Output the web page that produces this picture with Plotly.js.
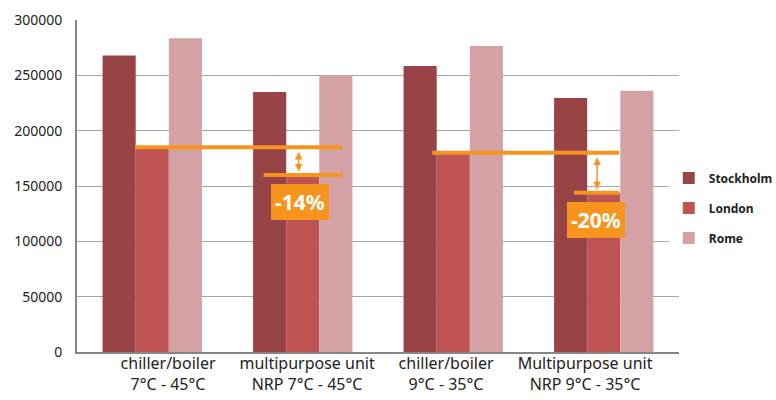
<!DOCTYPE html>
<html><head><meta charset="utf-8">
<script src="https://cdn.plot.ly/plotly-3.0.1.min.js"></script>
<style>html,body{margin:0;padding:0;background:#fff}#chart{width:776px;height:400px}</style>
</head><body><div id="chart"></div>
<script>
const categories = ["chiller/boiler<br>7°C - 45°C", "multipurpose unit<br>NRP 7°C - 45°C", "chiller/boiler<br>9°C - 35°C", "Multipurpose unit<br>NRP 9°C - 35°C"];
const seriesNames = ["Stockholm", "London", "Rome"];
const stockholm = [268000, 235000, 258500, 229500];
const london = [185000, 160000, 180000, 144000];
const rome = [283500, 250000, 276500, 236000];
const savingLabels = ["-14%", "-20%"];
const colors = ["#984447", "#BE5354", "#D4A2A5"];
const orange = "#F7941E";
const font = "Noto Sans, Open Sans, sans-serif";

const vals = [stockholm, london, rome];
const traces = seriesNames.map((n, i) => ({
  type: "bar", name: n, x: [0,1,2,3], y: vals[i],
  marker: {color: colors[i]}, legendgroup: n
}));
// label axis (the original's category labels sit on a slightly different pitch than the bars)
traces.push({type:"scatter", mode:"markers", x:[0,1,2,3], y:[0,0,0,0], xaxis:"x2", yaxis:"y",
  marker:{opacity:0, size:1}, showlegend:false, hoverinfo:"skip"});

// comparison markers, derived from London values of baseline (0,2) vs NRP (1,3)
const shapes = [];
const annotations = [];
const pairs = [[0,1,savingLabels[0]], [2,3,savingLabels[1]]];
const barW = 0.22;
pairs.forEach(([a,b,lab]) => {
  const ya = london[a], yb = london[b];
  const xEnd = b + (b===1 ? 0.264 : 0.102);
  const xStart = a - barW/2 - (a===2 ? 0.03 : 0.005);
  shapes.push({type:"line", xref:"x", yref:"y", x0: xStart, x1: xEnd, y0: ya, y1: ya, line:{color:orange, width:4}});
  shapes.push({type:"line", xref:"x", yref:"y", x0: b - (b===1 ? 0.26 : 0.197), x1: xEnd, y0: yb, y1: yb, line:{color:orange, width:4}});
  const xa = b - (b===1 ? 0.027 : 0.044);
  annotations.push({x: xa, y: yb + 3000, ax: xa, ay: ya - 3000, xref:"x", yref:"y", axref:"x", ayref:"y",
    text:"", showarrow:true, arrowhead:2, startarrowhead:2, arrowside:"end+start", arrowsize:1, arrowwidth:1.5, arrowcolor:orange});
  annotations.push({x: b - (b===1 ? 0.021 : 0.05), y: yb - (b===1 ? 24500 : 25000), xref:"x", yref:"y", text:"<b>"+lab+"</b>", showarrow:false,
    font:{family:font, size:21, color:"#fff"}, bgcolor:orange, borderpad:4, bordercolor:orange, borderwidth:0});
});

const layout = {
  width: 776, height: 400,
  margin: {l: 77, r: 97, t: 20, b: 48, autoexpand: false},
  paper_bgcolor: "#fff", plot_bgcolor: "#fff",
  barmode: "group", bargap: 0.34, bargroupgap: 0,
  font: {family: font, color: "#222"},
  xaxis: {tickmode:"array", tickvals:[0,1,2,3], showticklabels:false, range:[-0.5,3.5],
    showline:true, linecolor:"#868686", linewidth:2, ticks:"", showgrid:false},
  xaxis2: {overlaying:"x", anchor:"y", side:"bottom", type:"linear", range:[-0.655, 3.676],
    tickmode:"array", tickvals:[0,1,2,3], ticktext: categories,
    showline:false, showgrid:false, zeroline:false, ticks:"", ticklabelstandoff: 0,
    tickfont:{family:font, size:16, color:"#222"}},
  yaxis: {range:[0,300000], dtick:50000, tickformat:"d", showgrid:true, gridcolor:"#A6A6A6", gridwidth:1,
    showline:true, linecolor:"#868686", linewidth:2, ticks:"", zeroline:false, ticklabelstandoff: 10,
    tickfont:{family:font, size:14, color:"#222"}},
  legend: {x: 0.983, xanchor:"left", y: 0.434, yanchor:"middle", traceorder:"grouped", tracegroupgap: 11,
    font:{family:font, size:12, color:"#222", weight:"bold"}, itemwidth:30},
  shapes, annotations
};
Plotly.newPlot("chart", traces, layout, {displayModeBar:false, staticPlot:true});
</script></body></html>
